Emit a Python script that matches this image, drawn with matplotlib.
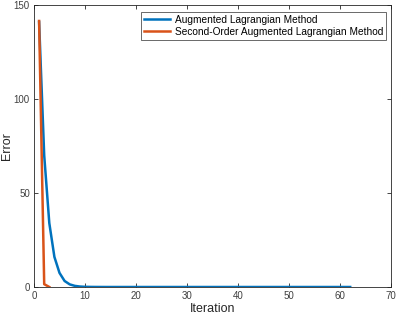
import matplotlib
matplotlib.use('Agg')
import matplotlib.pyplot as plt

# Error per iteration for both methods
iter_alm = list(range(1, 63))
err_alm = [141.0, 70.0, 34.0, 16.0, 7.5, 3.2, 1.4, 0.6, 0.25, 0.1,
           0.05, 0.02, 0.01, 0.0, 0.0, 0.0, 0.0, 0.0, 0.0, 0.0,
           0.0, 0.0, 0.0, 0.0, 0.0, 0.0, 0.0, 0.0, 0.0, 0.0,
           0.0, 0.0, 0.0, 0.0, 0.0, 0.0, 0.0, 0.0, 0.0, 0.0,
           0.0, 0.0, 0.0, 0.0, 0.0, 0.0, 0.0, 0.0, 0.0, 0.0,
           0.0, 0.0, 0.0, 0.0, 0.0, 0.0, 0.0, 0.0, 0.0, 0.0,
           0.0, 0.0]
iter_soalm = [1, 2, 3]
err_soalm = [141.5, 1.5, 0.0]

labels = ["Augmented Lagrangian Method", "Second-Order Augmented Lagrangian Method"]
xticks = [0, 10, 20, 30, 40, 50, 60, 70]
yticks = [0, 50, 100, 150]

plt.rcParams['font.family'] = ['Liberation Sans', 'DejaVu Sans']

fig = plt.figure(figsize=(3.99, 3.16), dpi=100)
ax = fig.add_axes([34/399, 29/316, 357/399, 282/316])

ax.plot(iter_alm, err_alm, color='#0072BD', lw=1.8, label=labels[0])
ax.plot(iter_soalm, err_soalm, color='#D95319', lw=1.8, label=labels[1])

ax.set_xlim(0, 70)
ax.set_ylim(0, 150)
ax.set_xticks(xticks)
ax.set_yticks(yticks)
ax.tick_params(direction='in', length=3, width=0.6, labelsize=7, colors='#262626',
               labelcolor='#404040', top=True, right=True, pad=3)
for s in ax.spines.values():
    s.set_color('#262626')
    s.set_linewidth(0.6)

ax.set_xlabel("Iteration", fontsize=9, color='#262626')
ax.set_ylabel("Error", fontsize=9, color='#262626')
# place axis labels where the reference has them
ax.xaxis.set_label_coords(0.5, -16/282)
ax.yaxis.set_label_coords(-21/357, 0.5)

leg = ax.legend(loc='upper right', bbox_to_anchor=(352/357, 1 - 7/282),
                bbox_transform=ax.transAxes, fontsize=7.3, frameon=True, fancybox=False,
                edgecolor='#262626', handlelength=2.5, handletextpad=0.5,
                borderpad=0.3, labelspacing=0.15, borderaxespad=0)
leg.get_frame().set_linewidth(0.6)

fig.savefig("out.png", dpi=100)
